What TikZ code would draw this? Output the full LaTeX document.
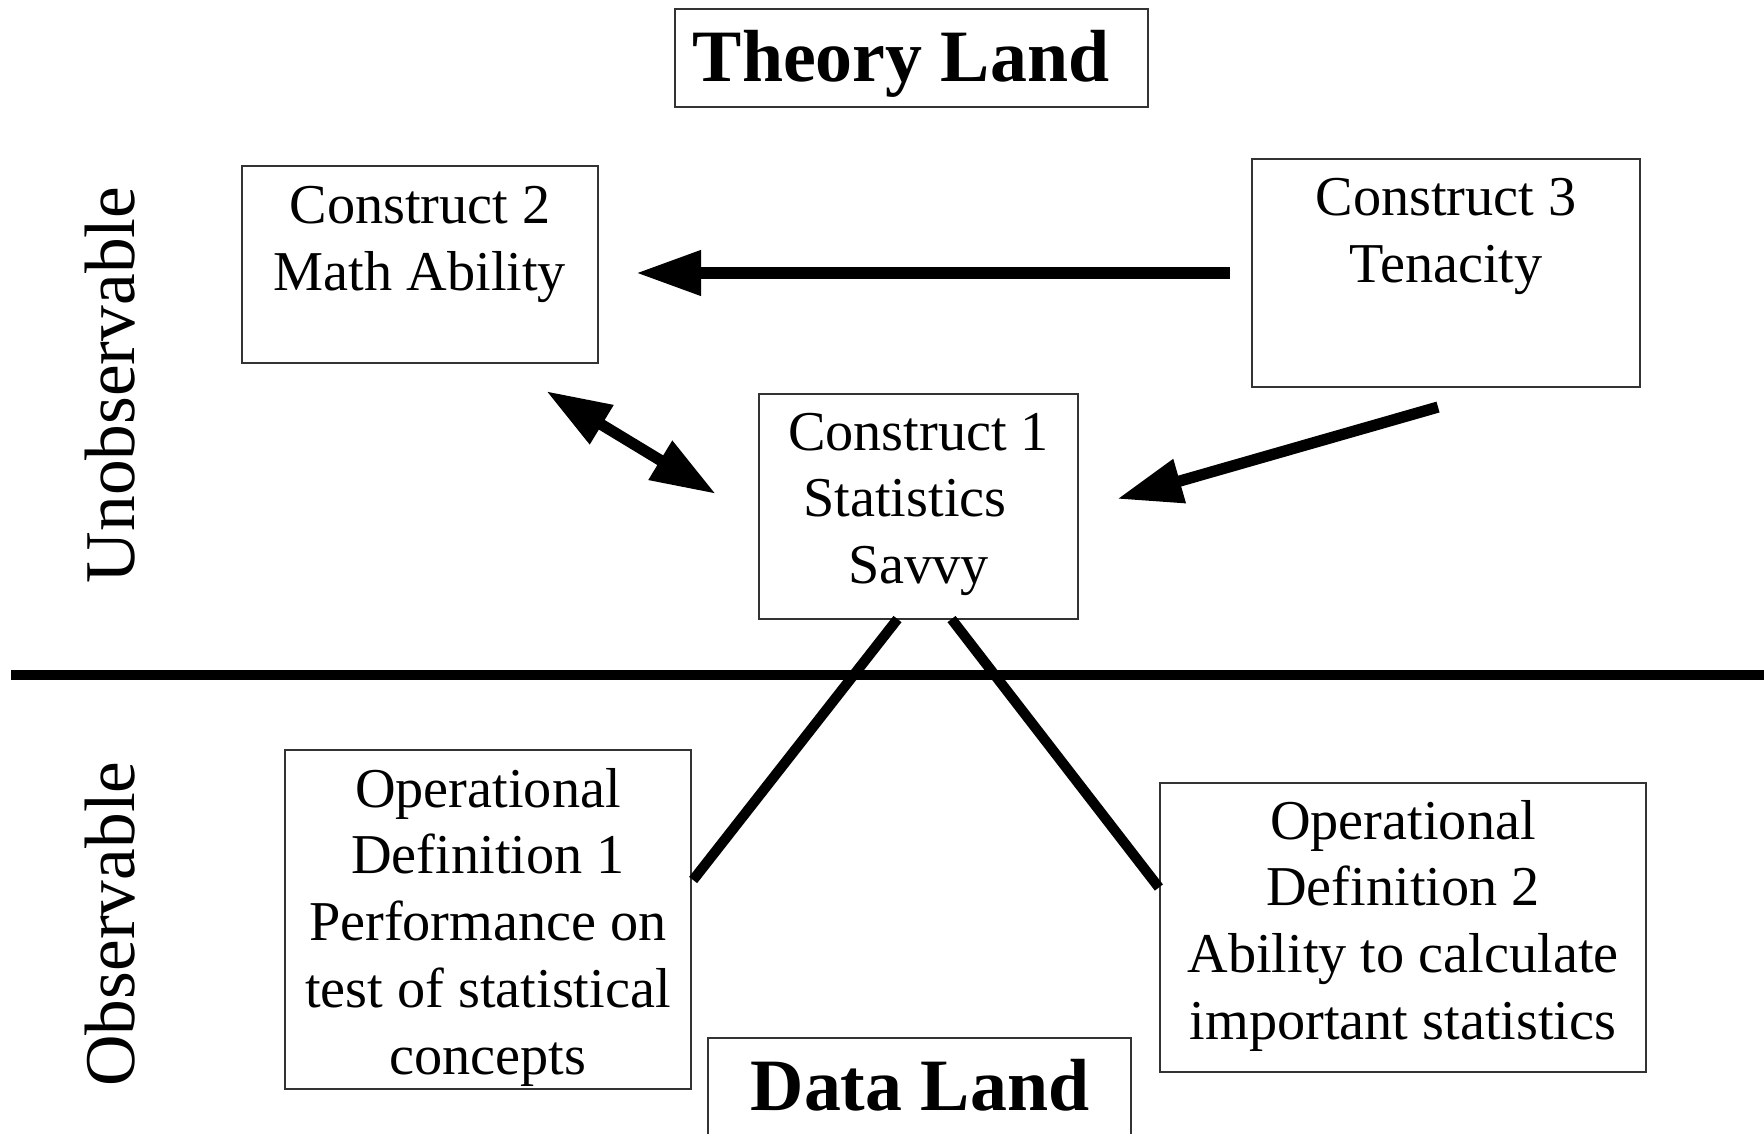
\documentclass[tikz,border=0pt]{standalone}
\usepackage{fontspec}
\setmainfont{Liberation Serif}
\usetikzlibrary{arrows.meta}

\begin{document}
\begin{tikzpicture}[x=0.01cm, y=-0.01cm,
    >={Triangle[length=18.5pt, width=12.2pt]},
    box/.style={draw=black!80, line width=0.5pt, inner sep=0pt, outer sep=0pt},
    boxtext/.style={font=\fontsize{16}{19}\selectfont, align=center, anchor=base, inner sep=0pt},
    land/.style={font=\fontsize{21}{25}\selectfont\bfseries, anchor=base, inner sep=0pt},
    side/.style={font=\fontsize{20.3}{24}\selectfont, rotate=90, inner sep=0pt},
    bigarrow/.style={line width=3.2pt},
    link/.style={line width=2.9pt}]
    \useasboundingbox (0,0) rectangle (1764,1134);

    % Theory and data labels
    \node[box, minimum width=4.73cm, minimum height=0.98cm] (theory) at (911.5,58) {};
    \node[land] (theorytext) at (901,82) {Theory Land};
    \node[box, minimum width=4.23cm, minimum height=1.04cm] (data) at (919.5,1090) {};
    \node[land] (datatext) at (920,1110) {Data Land};

    % Side labels
    \node[side] (unobs) at (110,385) {Unobservable};
    \node[side] (obs) at (110,924) {Observable};

    % Divider
    \draw[line width=3.1pt] (11,675) -- (1764,675);

    % Constructs (text placed by the baseline of its last line)
    \node[box, minimum width=3.56cm, minimum height=1.97cm] (c2) at (420,264.5) {};
    \node[boxtext] (c2text) at ([yshift=-1.248cm]c2.north) {Construct 2\\Math Ability};
    \node[box, minimum width=3.88cm, minimum height=2.28cm] (c3) at (1446,273) {};
    \node[boxtext] (c3text) at ([yshift=-1.238cm]c3.north) {Construct 3\\Tenacity};
    \node[box, minimum width=3.19cm, minimum height=2.25cm] (c1) at (918.5,506.5) {};
    \node[boxtext] (c1text) at ([yshift=-1.896cm]c1.north)
        {Construct 1\\Statistics\rule{0.48em}{0pt}\\Savvy};

    % Operational definitions
    \node[box, minimum width=4.06cm, minimum height=3.39cm] (op1) at (488,919.5) {};
    \node[boxtext] (op1text) at ([yshift=-3.242cm]op1.north)
        {Operational\\Definition 1\\Performance on\\test of statistical\\concepts};
    \node[box, minimum width=4.86cm, minimum height=2.89cm] (op2) at (1403,927.5) {};
    \node[boxtext] (op2text) at ([yshift=-2.564cm]op2.north)
        {Operational\\Definition 2\\Ability to calculate\\important statistics};

    % Arrows between constructs
    \draw[bigarrow, ->] ([xshift=-0.22cm]c3.west) -- ([shift={(38,8.5)}]c2.east);
    \draw[bigarrow, ->] ([shift={(-8,20)}]c3.south) -- ([shift={(39,-7.5)}]c1.east);
    \draw[bigarrow, <->] ([shift={(-52,28)}]c2.south east) -- ([shift={(-43,100)}]c1.north west);

    % Links to the operational definitions
    \draw[link] ([xshift=-0.21cm]c1.south) -- ([shift={(2,-39.5)}]op1.east);
    \draw[link] ([xshift=0.33cm]c1.south) -- ([shift={(-1,-40)}]op2.west);
\end{tikzpicture}
\end{document}
